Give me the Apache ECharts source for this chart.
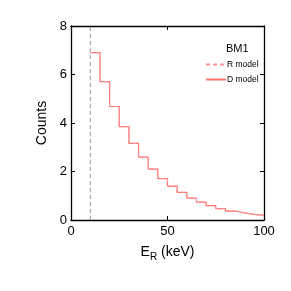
<!DOCTYPE html>
<html><head><meta charset="utf-8">
<script src="https://cdn.jsdelivr.net/npm/echarts@6/dist/echarts.min.js"></script>
<style>html,body{margin:0;padding:0;background:#fff}#c{width:291px;height:291px}</style>
</head><body><div id="c"></div>
<script>
const binEdges = [10,15,20,25,30,35,40,45,50,55,60,65,70,75,80,85,90,95,100];
const countsD = [6.90,5.71,4.68,3.85,3.16,2.59,2.10,1.71,1.40,1.14,0.90,0.74,0.59,0.47,0.37,0.29,0.23,0.19];
const countsR = [6.90,5.71,4.68,3.85,3.16,2.59,2.10,1.71,1.40,1.14,0.90,0.74,0.59,0.47,0.37,0.29,0.23,0.19];
const thresholdX = [10, 10];
const thresholdY = [0, 8];

function stepData(vals){
  return binEdges.map((e,i)=>[e, vals[Math.min(i, vals.length-1)]]);
}
const font = 'Liberation Sans, Arial, Helvetica, sans-serif';
const chart = echarts.init(document.getElementById('c'), null, {renderer:'canvas'});
const axisCommon = {
  axisLine:{show:true, onZero:false, lineStyle:{color:'#000', width:1.3}},
  axisTick:{show:true, inside:true, length:4, lineStyle:{color:'#000', width:1}},
  splitLine:{show:false}
};
chart.setOption({
  animation:false,
  backgroundColor:'#fff',
  grid:{left:71, right:27, top:26, bottom:71, containLabel:false},
  title:{text:'BM1', left:221, top:38, textStyle:{fontFamily:font, fontSize:11, fontWeight:'normal', color:'#000'}},
  legend:{
    orient:'vertical', left:200, top:55, itemWidth:20, itemHeight:8, itemGap:6,
    itemStyle:{opacity:0},
    textStyle:{fontFamily:font, fontSize:8.5, color:'#000', padding:[0,0,0,-4]},
    data:['R model','D model']
  },
  xAxis:[
    Object.assign({type:'value', min:0, max:100, interval:50, position:'bottom',
      axisLabel:{fontFamily:font, fontSize:13, color:'#000', margin:5},
      name:'{a|E}{s|R}{a| (keV)}', nameLocation:'middle', nameGap:22,
      nameTextStyle:{fontFamily:font, color:'#000', rich:{
        a:{fontFamily:font, fontSize:14, color:'#000'},
        s:{fontFamily:font, fontSize:10, color:'#000', padding:[10,0,0,0]}
      }}
    }, axisCommon),
    Object.assign({type:'value', min:0, max:100, interval:50, position:'top', axisLabel:{show:false}}, axisCommon)
  ],
  yAxis:[
    Object.assign({type:'value', min:0, max:8, interval:2, position:'left',
      axisLabel:{fontFamily:font, fontSize:13, color:'#000', margin:4},
      name:'Counts', nameLocation:'middle', nameGap:14, nameRotate:90,
      nameTextStyle:{fontFamily:font, fontSize:14, color:'#000'}
    }, axisCommon),
    Object.assign({type:'value', min:0, max:8, interval:2, position:'right', axisLabel:{show:false}}, axisCommon)
  ],
  series:[
    {type:'line', name:'threshold', data:thresholdX.map((x,i)=>[x, thresholdY[i]]), symbol:'none',
     lineStyle:{color:'#999', width:1, type:[4,3]}, silent:true, z:1},
    {type:'line', name:'D model', data:stepData(countsD), step:'end', symbol:'none',
     lineStyle:{color:'#ff7070', width:1.2}, itemStyle:{color:'#ff7070'}, z:2},
    {type:'line', name:'R model', data:stepData(countsR), step:'end', symbol:'none',
     lineStyle:{color:'#ff9090', width:1, type:[4,3]}, itemStyle:{color:'#ff9090'}, z:3}
  ]
});
</script></body></html>
